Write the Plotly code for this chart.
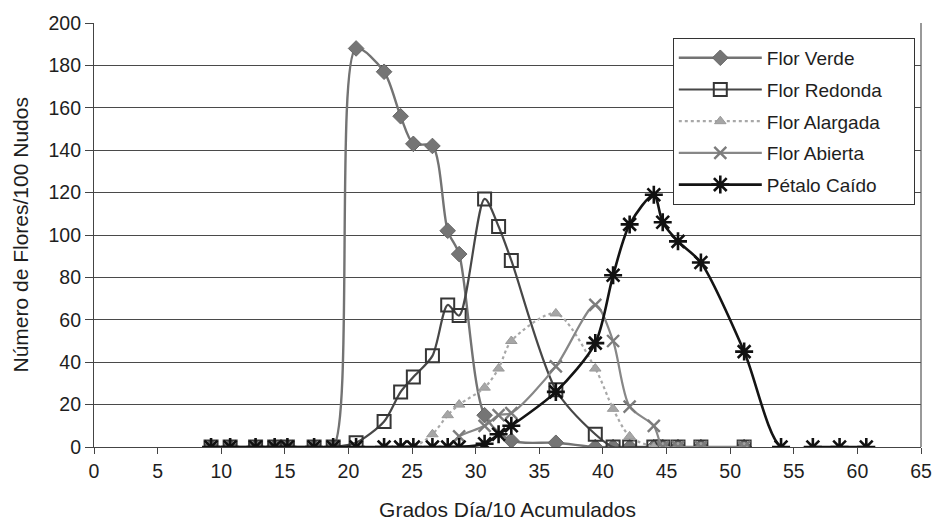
import plotly.graph_objects as go

# Accumulated degree-days (/10) at each sampling date
grados = [9.2, 10.7, 12.7, 14.2, 15.2, 17.3, 18.8, 20.6, 22.8, 24.1, 25.1, 26.6,
          27.8, 28.7, 30.7, 31.8, 32.8, 36.3, 39.4, 40.8, 42.1, 44.0, 44.7,
          45.9, 47.7, 51.1, 54.0, 56.5, 58.6, 60.7]

# Flowers per 100 nodes by phenological stage (None = not recorded)
flor_verde = [0, 0, 0, 0, 0, 0, 0, 188, 177, 156, 143, 142,
              102, 91, 15, None, 3, 2, 0, 0, 0, 0, 0,
              0, 0, 0, None, None, None, None]
flor_redonda = [0, 0, 0, 0, 0, 0, 0, 2, 12, 26, 33, 43,
                67, 62, 117, 104, 88, 27, 6, 0, 0, 0, 0,
                0, 0, 0, None, None, None, None]
flor_alargada = [0, 0, 0, 0, 0, 0, 0, 0, 0, 0, 0, 6,
                 15, 20, 28, 37, 50, 63, 37, 18, 5, 0, 0,
                 0, 0, 0, None, None, None, None]
flor_abierta = [0, 0, 0, 0, 0, 0, 0, 0, 0, 0, 0, 0,
                0, 5, 10, 15, 16, 38, 67, 50, 19, 10, 0,
                0, 0, 0, None, None, None, None]
petalo_caido = [0, 0, 0, 0, 0, 0, 0, 0, 0, 0, 0, 0,
                0, 0, 1.5, 6, 10, 26, 49, 81, 105, 119, 106,
                97, 87, 45, 0, 0, 0, 0]

FONT = "Liberation Sans, Arial, sans-serif"
TXT = "#1e1e1e"
PAD = "\u00a0" * 5  # extra room on the right side of each legend entry

series = [
    ("Flor Verde", flor_verde, dict(color="#737373", width=2.4, dash="solid"),
     dict(symbol="diamond", size=12, color="#757575", line=dict(color="#666", width=1))),
    ("Flor Redonda", flor_redonda, dict(color="#474747", width=2.2, dash="solid"),
     dict(symbol="square-open", size=13, color="#363636", line=dict(color="#363636", width=2))),
    ("Flor Alargada", flor_alargada, dict(color="#a8a8a8", width=2.2, dash="dot"),
     dict(symbol="triangle-up", size=10, color="#a6a6a6", line=dict(color="#999", width=1))),
    ("Flor Abierta", flor_abierta, dict(color="#878787", width=2.2, dash="solid"),
     dict(symbol="x-thin-open", size=12, color="#7c7c7c", line=dict(color="#7c7c7c", width=2.4))),
    ("Pétalo Caído", petalo_caido, dict(color="#141414", width=2.6, dash="solid"),
     dict(symbol="asterisk-open", size=15, color="#111111", line=dict(color="#111111", width=2.6))),
]

fig = go.Figure()
for i, (name, vals, line, marker) in enumerate(series):
    fig.add_trace(go.Scatter(
        x=grados, y=vals, name=name + PAD, mode="lines+markers",
        line=dict(shape="spline", smoothing=0.8, **line),
        marker=marker, connectgaps=True, legendgroup=f"g{i}",
    ))

fig.update_layout(
    width=944, height=529,
    margin=dict(l=94, r=17, t=22, b=81),
    paper_bgcolor="white", plot_bgcolor="white",
    font=dict(family=FONT, size=19, color=TXT),
    showlegend=True,
    legend=dict(
        x=(677 - 94) / 833, y=(448 - 37) / 426, xanchor="left", yanchor="top",
        bgcolor="white", bordercolor="#333", borderwidth=1,
        font=dict(family=FONT, size=19, color=TXT),
        tracegroupgap=4, itemwidth=83,
    ),
    xaxis=dict(
        range=[0, 65], dtick=5, tick0=0, showgrid=False, zeroline=False,
        ticks="outside", ticklen=6, tickcolor="#444",
        showline=True, linecolor="#444", linewidth=1.2, mirror=False,
        title=dict(text="Grados Día/10 Acumulados", font=dict(size=21), standoff=21),
        tickfont=dict(size=19.5),
    ),
    yaxis=dict(
        range=[0, 200], dtick=20, tick0=0, showgrid=True, gridcolor="#4a4a4a",
        gridwidth=1.3, zeroline=False,
        ticks="outside", ticklen=8, tickcolor="#444",
        showline=True, linecolor="#444", linewidth=1.2,
        tickfont=dict(size=19.5),
    ),
)

# y-axis title placed close to the left edge
fig.add_annotation(
    text="Número de Flores/100 Nudos", textangle=-90,
    xref="paper", yref="paper", x=(19 - 94) / 833, y=0.5,
    xanchor="center", yanchor="middle", showarrow=False,
    font=dict(family=FONT, size=21, color=TXT),
)

# right border of the plotting area
fig.add_shape(type="line", xref="paper", yref="paper", x0=1, x1=1, y0=0, y1=1,
              line=dict(color="#555", width=1.2))

fig.write_html("out.html")
